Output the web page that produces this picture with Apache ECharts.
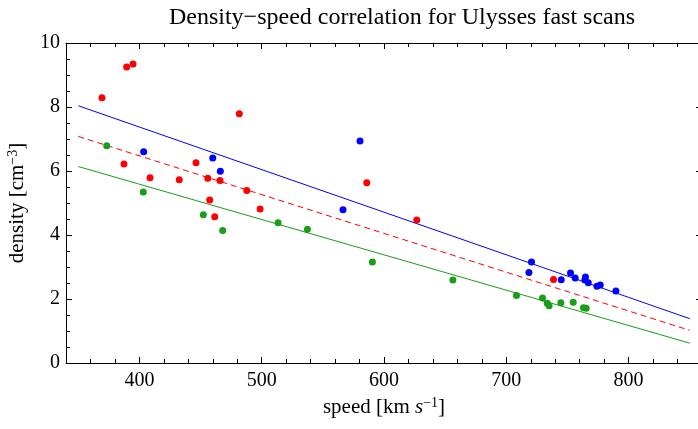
<!DOCTYPE html>
<html>
<head>
<meta charset="utf-8">
<script src="https://cdn.jsdelivr.net/npm/echarts@6/dist/echarts.min.js"></script>
<style>
html,body{margin:0;padding:0;background:#fff;}
#chart{width:698px;height:429px;}
</style>
</head>
<body>
<div id="chart"></div>
<script>
// ---- data ----
const titleText = 'Density\u2212speed correlation for Ulysses fast scans';
const xTicks = [400, 500, 600, 700, 800];
const yTicks = [0, 2, 4, 6, 8, 10];

const redPoints = [
  [369.4, 8.29], [389.6, 9.25], [394.8, 9.34], [481.7, 7.79], [387.4, 6.22],
  [446.3, 6.26], [408.7, 5.79], [432.6, 5.73], [455.9, 5.77], [465.9, 5.70],
  [585.9, 5.63], [487.8, 5.39], [457.5, 5.09], [498.7, 4.81], [461.6, 4.57],
  [626.8, 4.47], [738.6, 2.61]
];
const bluePoints = [
  [403.5, 6.60], [460.0, 6.41], [466.2, 5.99], [580.4, 6.94], [566.5, 4.79],
  [720.6, 3.16], [718.5, 2.83], [744.9, 2.60], [752.5, 2.81], [756.3, 2.66],
  [764.7, 2.69], [764.2, 2.59], [767.0, 2.51], [774.1, 2.40], [776.8, 2.44],
  [789.6, 2.25]
];
const greenPoints = [
  [373.3, 6.79], [403.2, 5.34], [452.3, 4.63], [468.1, 4.14], [513.4, 4.38],
  [537.4, 4.18], [590.5, 3.16], [656.3, 2.59], [708.3, 2.11], [729.6, 2.03],
  [733.5, 1.87], [735.0, 1.79], [744.6, 1.88], [754.7, 1.90], [763.1, 1.73],
  [765.3, 1.71]
];
const blueFit = [[350, 8.04], [850, 1.385]];
const redFit = [[350, 7.08], [850, 1.02]];
const greenFit = [[350, 6.14], [850, 0.62]];

// ---- styling ----
const FONT = 'Liberation Serif';
const RED = '#ff0000', BLUE = '#0000ff', GREEN = '#1a9e1a';
const gridRect = {left: 66, top: 43, width: 636, height: 320};
const X_MIN = 340, X_MAX = 860, Y_MIN = 0, Y_MAX = 10;

const richName = {
  it: {fontFamily: FONT, fontSize: 21, fontStyle: 'italic', color: '#000'},
  sup: {fontFamily: FONT, fontSize: 14, color: '#000', verticalAlign: 'top', padding: [0, 0, 9, 0]}
};

function xAx(pos, grid, major, withLabels) {
  const a = {
    type: 'value', gridIndex: grid, position: pos, min: X_MIN, max: X_MAX,
    axisLine: {show: !major, onZero: false, lineStyle: {color: '#000', width: 1}},
    axisTick: {inside: true, length: major ? 6 : 4, lineStyle: {color: '#000', width: 1}},
    axisLabel: {show: false},
    splitLine: {show: false}
  };
  if (major) { a.axisTick.customValues = xTicks; a.interval = 100; }
  else { a.interval = 20; }
  if (withLabels) {
    a.axisLabel = {show: true, customValues: xTicks, fontFamily: FONT, fontSize: 20, color: '#000', margin: 8};
    a.name = 'speed [km {it|s}{sup|\u22121}]';
    a.nameLocation = 'middle';
    a.nameGap = 33;
    a.nameTextStyle = {fontFamily: FONT, fontSize: 21, color: '#000', rich: richName};
  }
  return a;
}
function yAx(pos, grid, major, withLabels) {
  const a = {
    type: 'value', gridIndex: grid, position: pos, min: Y_MIN, max: Y_MAX,
    axisLine: {show: !major, onZero: false, lineStyle: {color: '#000', width: 1}},
    axisTick: {inside: true, length: major ? 6 : 4, lineStyle: {color: '#000', width: 1}},
    axisLabel: {show: false},
    splitLine: {show: false}
  };
  if (major) { a.axisTick.customValues = yTicks; a.interval = 2; }
  else { a.interval = 0.5; }
  if (withLabels) {
    a.axisLabel = {show: true, customValues: yTicks, fontFamily: FONT, fontSize: 20, color: '#000', margin: 6};
    a.name = 'density [cm{sup|\u22123}]';
    a.nameLocation = 'middle';
    a.nameGap = 37;
    a.nameRotate = 90;
    a.nameTextStyle = {fontFamily: FONT, fontSize: 21, color: '#000', rich: richName};
  }
  return a;
}

function scatter(data, color) {
  return {type: 'scatter', xAxisIndex: 0, yAxisIndex: 0, data: data, symbol: 'circle', symbolSize: 7,
          itemStyle: {color: color, opacity: 1}, z: 5, silent: true};
}
function fitLine(data, color, dashed) {
  return {type: 'line', xAxisIndex: 0, yAxisIndex: 0, data: data, showSymbol: false, symbol: 'none',
          lineStyle: {color: color, width: 1, type: dashed ? [6, 4] : 'solid'}, z: 3, silent: true};
}

const chart = echarts.init(document.getElementById('chart'), null, {renderer: 'canvas'});
chart.setOption({
  animation: false,
  backgroundColor: '#fff',
  title: {
    text: titleText, left: 397, top: 1, textAlign: 'center',
    textStyle: {fontFamily: FONT, fontSize: 24, fontWeight: 'normal', color: '#000'}
  },
  grid: [
    Object.assign({containLabel: false, outerBoundsMode: 'none'}, gridRect),
    Object.assign({containLabel: false, outerBoundsMode: 'none'}, gridRect)
  ],
  xAxis: [xAx('bottom', 0, false, true), xAx('top', 0, false, false), xAx('bottom', 1, true, false), xAx('top', 1, true, false)],
  yAxis: [yAx('left', 0, false, true), yAx('right', 0, false, false), yAx('left', 1, true, false), yAx('right', 1, true, false)],
  series: [
    fitLine(blueFit, BLUE, false),
    fitLine(redFit, RED, true),
    fitLine(greenFit, GREEN, false),
    scatter(redPoints, RED),
    scatter(bluePoints, BLUE),
    scatter(greenPoints, GREEN)
  ]
});
</script>
</body>
</html>
